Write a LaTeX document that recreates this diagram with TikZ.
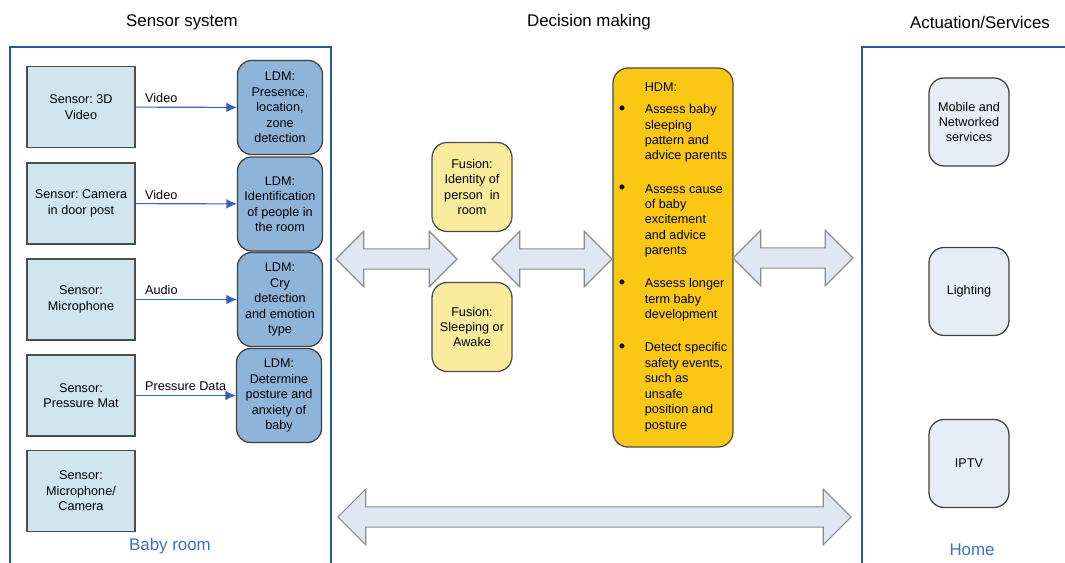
\documentclass[tikz,border=0pt]{standalone}
\usepackage{fontspec}
\setmainfont{Liberation Sans}
\usetikzlibrary{shapes.arrows,arrows.meta}

\definecolor{sensorfill}{RGB}{207,230,239}
\definecolor{ldmfill}{RGB}{143,180,218}
\definecolor{fusionfill}{RGB}{248,236,156}
\definecolor{hdmfill}{RGB}{250,200,20}
\definecolor{actfill}{RGB}{230,237,246}
\definecolor{arrowfill}{RGB}{222,231,242}
\definecolor{frameblue}{RGB}{38,88,158}
\definecolor{placeblue}{RGB}{58,112,200}
\definecolor{linkblue}{RGB}{62,92,196}

\frenchspacing
\newcommand{\hdmind}{\hspace*{0.65cm}}
\newcommand{\hdmbul}{\makebox[0.65cm][l]{\raisebox{-0.6pt}{\fontsize{13}{11}\selectfont\textbullet}}}

\tikzset{
  heading/.style={font=\fontsize{12}{14}\selectfont},
  place/.style={font=\fontsize{12}{14}\selectfont,text=placeblue},
  frame/.style={draw=frameblue,line width=1.8pt},
  sensor/.style={draw=black!70,fill=sensorfill,line width=0.9pt,
    minimum width=2.7cm,minimum height=2.025cm,inner sep=1pt,align=center},
  ldm/.style={draw=black!75,fill=ldmfill,line width=0.9pt,rounded corners=0.35cm,
    minimum width=2.125cm,minimum height=2.35cm,inner sep=1pt,align=center},
  fusion/.style={draw=black!70,fill=fusionfill,line width=0.9pt,rounded corners=0.38cm,
    minimum width=2cm,minimum height=2.225cm,inner sep=1pt,align=center},
  hdm/.style={draw=black!70,fill=hdmfill,line width=0.9pt,rounded corners=0.38cm,
    minimum width=3cm,minimum height=9.475cm,inner sep=1pt,align=left},
  act/.style={draw=black!75,fill=actfill,line width=0.9pt,rounded corners=0.38cm,
    minimum width=2cm,minimum height=2.2cm,inner sep=1pt,align=center},
  link/.style={draw=linkblue,line width=0.8pt,-{Latex[length=2.6mm,width=2.4mm]}},
  lbl/.style={anchor=base west,inner sep=0pt,xshift=0.225cm,yshift=3.2pt},
  dbl/.style={double arrow,draw=black!45,fill=arrowfill,line width=0.8pt,
    inner xsep=0pt,inner ysep=0.24cm,double arrow head extend=0.44cm,minimum width=0pt}
}

\begin{document}
\begin{tikzpicture}[x=0.025cm,y=-0.025cm,font=\fontsize{9}{11}\selectfont]
  \useasboundingbox (0,0) rectangle (1065,563);

  % headings and the two rooms
  \node[heading] (hsens) at (182,22) {Sensor system};
  \node[heading] (hdec) at (589,22) {Decision making};
  \node[heading] (hact) at (980,22) {Actuation/Services};

  \draw[frame] (10,575) -- (10,47) -- (331,47) -- (331,575);
  \draw[frame] (1075,47) -- (862,47) -- (862,575);
  \node[place] (room) at (170,546) {Baby room};
  \node[place] (home) at (972,550) {Home};

  % sensors
  \node[sensor] (s1) at (81,107) {Sensor: 3D\\Video};
  \node[sensor] (s2) at (81,203.5) {Sensor: Camera\\in door post};
  \node[sensor] (s3) at (81,299.5) {Sensor:\\Microphone};
  \node[sensor] (s4) at (81,395.5) {Sensor:\\Pressure Mat};
  \node[sensor] (s5) at (81,491) {Sensor:\\Microphone/\\Camera};

  % low level decisions
  \node[ldm] (l1) at (280,107.5) {LDM:\\Presence,\\location,\\zone\\detection};
  \node[ldm] (l2) at (280,204) {LDM:\\Identification\\of people in\\the room};
  \node[ldm] (l3) at (280,299.5) {LDM:\\Cry\\detection\\and emotion\\type};
  \node[ldm] (l4) at (279,395.5) {LDM:\\Determine\\posture and\\anxiety of\\baby};

  \draw[link] (s1) -- (l1) node[lbl,pos=0] {Video};
  \draw[link] (s2) -- (l2) node[lbl,pos=0] {Video};
  \draw[link] (s3) -- (l3) node[lbl,pos=0] {Audio};
  \draw[link] (s4) -- (l4) node[lbl,pos=0] {Pressure Data};

  % fusion and high level decision
  \node[fusion] (f1) at (472,187) {Fusion:\\Identity of\\person\ \ in\\room};
  \node[fusion] (f2) at (472,327) {Fusion:\\Sleeping or\\Awake};

  \node[hdm] (hdm) at (673,257.5) {\hdmind HDM:\\[4.5pt]
    \hdmbul Assess baby\\ \hdmind sleeping\\ \hdmind pattern and\\ \hdmind advice parents\\[12.5pt]
    \hdmbul Assess cause\\ \hdmind of baby\\ \hdmind excitement\\ \hdmind and advice\\ \hdmind parents\\[12.5pt]
    \hdmbul Assess longer\\ \hdmind term baby\\ \hdmind development\\[12.5pt]
    \hdmbul Detect specific\\ \hdmind safety events,\\ \hdmind such as\\ \hdmind unsafe\\ \hdmind position and\\ \hdmind posture};

  % actuation
  \node[act] (a1) at (969,122) {Mobile and\\Networked\\services};
  \node[act] (a2) at (969,291.5) {Lighting};
  \node[act] (a3) at (969,463.5) {IPTV};

  % exchange arrows
  \node[dbl,minimum height=3.025cm] (d1) at (396.5,259) {};
  \node[dbl,minimum height=3cm] (d2) at (552,259) {};
  \node[dbl,minimum height=3cm] (d3) at (793,258) {};
  \node[dbl,minimum height=12.825cm] (d4) at (594.5,517) {};
\end{tikzpicture}
\end{document}
